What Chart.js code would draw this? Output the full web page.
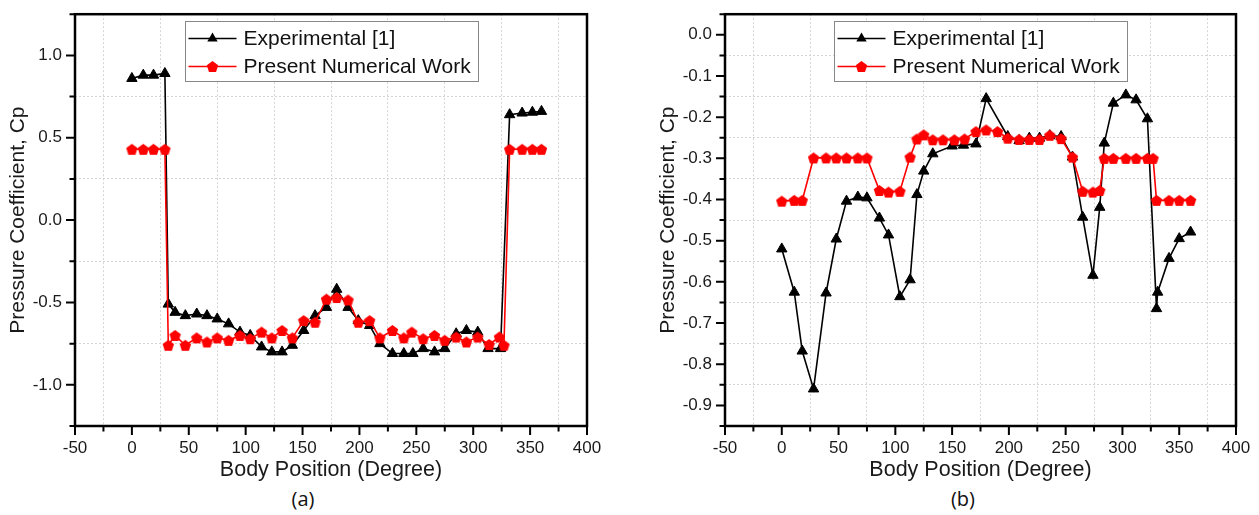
<!DOCTYPE html>
<html lang="en">
<head>
<meta charset="UTF-8" />
<title>Pressure Coefficient vs Body Position</title>
<script src="https://cdn.jsdelivr.net/npm/chart.js"></script>
<style>
  body { margin: 0; background: #fff; width: 1259px; height: 515px; position: relative; overflow: hidden; }
  canvas { position: absolute; top: 0; }
  #chartA { left: 0; }
  #chartB { left: 650px; }
  .cap { position: absolute; top: 485px; width: 60px; text-align: center; font: 20px "Open Sans", sans-serif; color: #111; }
</style>
</head>
<body>
  <canvas id="chartA" width="640" height="485"></canvas>
  <canvas id="chartB" width="609" height="485"></canvas>
  <div class="cap" style="left:273px">(a)</div>
  <div class="cap" style="left:933px">(b)</div>

<script>
  // ---- data (a) ----
  const expA_x = [0, 10, 19, 29, 32, 38, 47, 57, 66, 75, 85, 95, 104, 114, 123, 132, 141, 151, 161, 171, 180,
                  190, 199, 209, 218, 229, 239, 247, 256, 266, 275, 285, 294, 304, 313, 324, 332, 343, 352, 360];
  const expA_y = [0.86, 0.88, 0.88, 0.89, -0.51, -0.56, -0.58, -0.57, -0.58, -0.60, -0.63, -0.68, -0.70, -0.77, -0.80, -0.80, -0.76, -0.67, -0.58, -0.53, -0.42,
                  -0.53, -0.61, -0.64, -0.75, -0.81, -0.81, -0.81, -0.78, -0.80, -0.78, -0.69, -0.67, -0.68, -0.78, -0.78, 0.64, 0.65, 0.655, 0.66];
  const numA_x = [0, 10, 19, 29, 32, 38, 47, 57, 66, 75, 85, 95, 104, 114, 123, 132, 141, 151, 161, 171, 180,
                  190, 199, 209, 218, 229, 239, 246, 256, 266, 275, 285, 294, 304, 314, 323, 327, 332, 343, 352, 360];
  const numA_y = [0.43, 0.43, 0.43, 0.43, -0.76, -0.70, -0.76, -0.715, -0.74, -0.715, -0.73, -0.70, -0.72, -0.68, -0.715, -0.67, -0.715, -0.61, -0.62, -0.48, -0.47,
                  -0.485, -0.62, -0.61, -0.715, -0.67, -0.715, -0.68, -0.72, -0.70, -0.73, -0.71, -0.74, -0.71, -0.755, -0.71, -0.76, 0.43, 0.43, 0.43, 0.43];

  // ---- data (b) ----
  const expB_x = [0, 11, 18, 28, 39, 48, 57, 67, 75, 86, 94, 104, 113, 119, 125, 133, 150, 160, 171, 180,
                  199, 209, 218, 227, 236, 246, 256, 265, 274, 280, 284, 292, 303, 312, 322, 330, 331, 341, 350, 360];
  const expB_y = [-0.52, -0.625, -0.768, -0.86, -0.627, -0.496, -0.404, -0.394, -0.396, -0.445, -0.486, -0.636, -0.595, -0.388, -0.331, -0.289, -0.27, -0.268, -0.265, -0.155,
                  -0.247, -0.257, -0.251, -0.251, -0.245, -0.247, -0.297, -0.443, -0.584, -0.419, -0.263, -0.166, -0.146, -0.158, -0.204, -0.665, -0.625, -0.543, -0.495, -0.479];
  const numB_x = [0, 11, 18, 28, 39, 48, 57, 67, 75, 86, 94, 104, 113, 119, 125, 133, 142, 152, 161, 171, 180,
                  190, 199, 209, 218, 227, 236, 246, 256, 265, 274, 280, 284, 292, 303, 312, 322, 327, 330, 341, 350, 360];
  const numB_y = [-0.404, -0.402, -0.402, -0.299, -0.299, -0.299, -0.299, -0.299, -0.299, -0.378, -0.382, -0.38, -0.297, -0.253, -0.243, -0.255, -0.255, -0.255, -0.253, -0.235, -0.231,
                  -0.235, -0.251, -0.254, -0.254, -0.254, -0.244, -0.252, -0.297, -0.38, -0.382, -0.378, -0.3, -0.3, -0.3, -0.3, -0.3, -0.3, -0.402, -0.402, -0.402, -0.402];

  const seriesLabels = ["Experimental [1]", "Present Numerical Work"];
  const xTitle = "Body Position (Degree)";
  const yTitle = "Pressure Coefficient, Cp";

  const FONT = "'Liberation Sans', Arial, sans-serif";
  const zip = (xs, ys) => xs.map((x, i) => ({ x: x, y: ys[i] }));
  const isMajor = (v, m) => Math.abs(v / m - Math.round(v / m)) < 1e-6;

  // red pentagon marker
  function pentagon(r, color) {
    const s = Math.ceil(r * 2 + 3);
    const c = document.createElement("canvas");
    c.width = c.height = s;
    const g = c.getContext("2d");
    const cy = s / 2 + r * 0.095;
    g.beginPath();
    for (let i = 0; i < 5; i++) {
      const a = -Math.PI / 2 + i * 2 * Math.PI / 5;
      const px = s / 2 + r * Math.cos(a), py = cy + r * Math.sin(a);
      i ? g.lineTo(px, py) : g.moveTo(px, py);
    }
    g.closePath();
    g.fillStyle = color;
    g.fill();
    return c;
  }
  const pent = pentagon(6, "#ff0000");

  // frame, ticks and boxed legend like the Origin plot
  const originFrame = {
    id: "originFrame",
    afterDraw(chart, args, opts) {
      const { ctx, chartArea: a, scales: { x, y } } = chart;
      ctx.save();
      ctx.strokeStyle = "#000";
      ctx.lineWidth = 2;
      ctx.beginPath();
      x.ticks.forEach(t => {
        const px = x.getPixelForValue(t.value);
        ctx.moveTo(px, a.bottom);
        ctx.lineTo(px, a.bottom + (isMajor(t.value, opts.xMajor) ? 9 : 5.5));
      });
      y.ticks.forEach(t => {
        const py = y.getPixelForValue(t.value);
        ctx.moveTo(a.left, py);
        ctx.lineTo(a.left - (isMajor(t.value, opts.yMajor) ? 9 : 5.5), py);
      });
      ctx.stroke();
      ctx.lineWidth = 2.5;
      ctx.strokeRect(a.left, a.top, a.right - a.left, a.bottom - a.top);

      // legend
      const w = 293, h = 60;
      const bx = Math.round((a.left + a.right) / 2 - w / 2) + 0.5, by = Math.round(a.top + 7) + 0.5;
      ctx.fillStyle = "#fff";
      ctx.fillRect(bx, by, w, h);
      ctx.strokeStyle = "#888";
      ctx.lineWidth = 1;
      ctx.strokeRect(bx, by, w, h);
      ctx.font = "21px " + FONT;
      ctx.textBaseline = "middle";
      chart.data.datasets.slice().sort((p, q) => p.legendIndex - q.legendIndex).forEach((ds, i) => {
        const ry = by + 17 + i * 28;
        ctx.strokeStyle = ds.borderColor;
        ctx.lineWidth = 1.6;
        ctx.beginPath();
        ctx.moveTo(bx + 3, ry);
        ctx.lineTo(bx + 51, ry);
        ctx.stroke();
        const mx = bx + 27;
        if (ds.pointStyle === "triangle") {
          const r = ds.pointRadius;
          ctx.fillStyle = ds.pointBackgroundColor;
          ctx.beginPath();
          ctx.moveTo(mx, ry - r);
          ctx.lineTo(mx + r * 0.866, ry + r / 2);
          ctx.lineTo(mx - r * 0.866, ry + r / 2);
          ctx.closePath();
          ctx.fill();
        } else {
          ctx.drawImage(ds.pointStyle, mx - ds.pointStyle.width / 2, ry - ds.pointStyle.height / 2);
        }
        ctx.fillStyle = "#111";
        ctx.fillText(ds.label, bx + 58, ry + 1);
      });
      ctx.restore();
    }
  };

  function makeChart(id, exp, num, yMin, yMax, yStep, yMajor, rightPad) {
    const canvas = document.getElementById(id);
    return new Chart(canvas, {
      type: "line",
      data: {
        datasets: [
          {
            label: seriesLabels[0], legendIndex: 0, data: exp, order: 1,
            borderColor: "#000", borderWidth: 1.6, pointStyle: "triangle", pointRadius: 6,
            pointBackgroundColor: "#000", pointBorderColor: "#000", pointBorderWidth: 1
          },
          {
            label: seriesLabels[1], legendIndex: 1, data: num, order: 0,
            borderColor: "#ff0000", borderWidth: 1.6, pointStyle: pent, pointRadius: 6
          }
        ]
      },
      options: {
        responsive: false,
        devicePixelRatio: 1,
        animation: false,
        events: [],
        layout: { padding: { left: 0, top: 14, right: rightPad, bottom: 0 } },
        plugins: {
          legend: { display: false },
          tooltip: { enabled: false },
          originFrame: { xMajor: 50, yMajor: yMajor }
        },
        scales: {
          x: {
            type: "linear", min: -50, max: 400,
            afterFit: s => { s.height = 485 - 426; },
            ticks: {
              stepSize: 25, autoSkip: false, maxRotation: 0, padding: 3, color: "#1a1a1a",
              font: { family: FONT, size: 17 },
              callback: v => isMajor(v, 50) ? String(v) : ""
            },
            grid: {
              color: c => (c.tick && !isMajor(c.tick.value, 50)) ? "#d4d4d4" : "rgba(0,0,0,0)",
              lineWidth: 1, tickLength: 9, tickColor: "rgba(0,0,0,0)"
            },
            border: { display: false, dash: [2, 2] },
            title: { display: true, text: xTitle, color: "#1a1a1a", font: { family: FONT, size: 21.5 }, padding: { top: 0, bottom: 2 } }
          },
          y: {
            type: "linear", min: yMin, max: yMax,
            afterFit: s => { s.width = 75; },
            ticks: {
              stepSize: yStep, autoSkip: false, padding: 4, color: "#1a1a1a",
              font: { family: FONT, size: 17 },
              callback: v => isMajor(v, yMajor) ? (Math.abs(v) < 1e-9 ? 0 : v).toFixed(1) : ""
            },
            grid: {
              color: c => (c.tick && !isMajor(c.tick.value, yMajor)) ? "#d4d4d4" : "rgba(0,0,0,0)",
              lineWidth: 1, tickLength: 9, tickColor: "rgba(0,0,0,0)"
            },
            border: { display: false, dash: [2, 2] },
            title: { display: true, text: yTitle, color: "#1a1a1a", font: { family: FONT, size: 21 }, padding: { top: 6, bottom: 0 } }
          }
        }
      },
      plugins: [originFrame]
    });
  }

  makeChart("chartA", zip(expA_x, expA_y), zip(numA_x, numA_y), -1.25, 1.25, 0.25, 0.5, 53);
  makeChart("chartB", zip(expB_x, expB_y), zip(numB_x, numB_y), -0.95, 0.05, 0.05, 0.1, 23);
</script>
</body>
</html>
